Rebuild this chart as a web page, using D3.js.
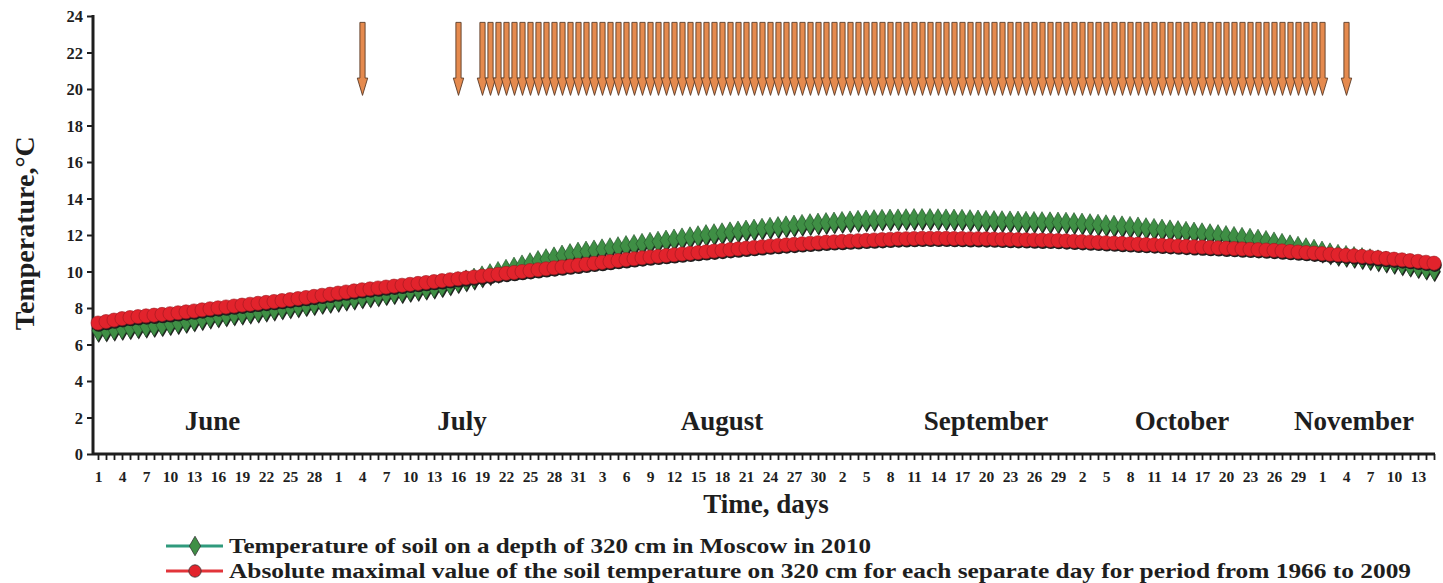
<!DOCTYPE html>
<meta charset="utf-8">
<style>
body { margin: 0; background: #fff; }
svg text { font-family: 'Liberation Serif', 'Times New Roman', serif; font-weight: bold; fill: #1e1e1e; }
.axis path, .axis line { stroke: #1e1e1e; }
</style>
<body>
<svg id="chart" width="1443" height="583"></svg>
<script src="https://d3js.org/d3.v7.min.js"></script>
<script>

// months shown on the x axis, and the day-of-month at each label
var months = ["June", "July", "August", "September", "October", "November"];
var monthLengths = [30, 31, 31, 30, 31, 15];
var monthLabelDay = [14.3, 45.5, 78, 111, 135.5, 157];

// soil temperature at 320 cm, Moscow 2010 (green diamonds)
var soil2010 = [].concat(
  [6.75, 6.78, 6.82, 6.86, 6.90, 6.94, 6.98, 7.02, 7.06, 7.12, 7.18, 7.24, 7.32, 7.40, 7.48,
   7.54, 7.60, 7.65, 7.70, 7.75, 7.80, 7.86, 7.92, 7.98, 8.04, 8.10, 8.16, 8.22, 8.28, 8.34],
  [8.40, 8.46, 8.52, 8.58, 8.64, 8.70, 8.76, 8.82, 8.88, 8.94, 9.00, 9.06, 9.12, 9.20, 9.30,
   9.42, 9.52, 9.62, 9.74, 9.86, 9.98, 10.10, 10.22, 10.34, 10.46, 10.58, 10.68, 10.78, 10.88, 10.96, 11.04],
  [11.10, 11.16, 11.22, 11.28, 11.34, 11.40, 11.46, 11.52, 11.58, 11.64, 11.70, 11.76, 11.82, 11.88, 11.94,
   12.00, 12.05, 12.10, 12.15, 12.20, 12.25, 12.30, 12.35, 12.40, 12.44, 12.48, 12.52, 12.56, 12.60, 12.63, 12.66],
  [12.69, 12.72, 12.75, 12.78, 12.80, 12.82, 12.84, 12.85, 12.86, 12.87, 12.88, 12.88, 12.88, 12.87, 12.86,
   12.85, 12.84, 12.82, 12.80, 12.78, 12.77, 12.76, 12.75, 12.74, 12.73, 12.72, 12.71, 12.70, 12.69, 12.68],
  [12.66, 12.63, 12.60, 12.57, 12.54, 12.51, 12.48, 12.45, 12.42, 12.38, 12.34, 12.30, 12.26, 12.22, 12.18,
   12.14, 12.10, 12.05, 12.00, 11.95, 11.90, 11.85, 11.80, 11.75, 11.68, 11.60, 11.52, 11.44, 11.36, 11.28, 11.20],
  [11.10, 11.00, 10.92, 10.86, 10.80, 10.74, 10.68, 10.62, 10.55, 10.48, 10.40, 10.32, 10.24, 10.16, 10.08]
);

// absolute maximum for each day, 1966-2009 (red circles)
var soilMax = [].concat(
  [7.18, 7.26, 7.34, 7.42, 7.48, 7.53, 7.57, 7.61, 7.65, 7.69, 7.74, 7.79, 7.84, 7.90, 7.96,
   8.01, 8.06, 8.11, 8.16, 8.21, 8.26, 8.31, 8.36, 8.41, 8.46, 8.52, 8.58, 8.64, 8.70, 8.76],
  [8.82, 8.88, 8.94, 9.00, 9.05, 9.10, 9.15, 9.20, 9.25, 9.30, 9.35, 9.40, 9.45, 9.50, 9.55,
   9.60, 9.65, 9.70, 9.75, 9.80, 9.85, 9.90, 9.95, 10.00, 10.05, 10.10, 10.15, 10.20, 10.25, 10.30, 10.35],
  [10.40, 10.45, 10.50, 10.55, 10.60, 10.65, 10.70, 10.75, 10.80, 10.84, 10.88, 10.92, 10.96, 11.00, 11.04,
   11.08, 11.12, 11.16, 11.20, 11.24, 11.28, 11.32, 11.36, 11.40, 11.43, 11.46, 11.49, 11.52, 11.55, 11.58, 11.61],
  [11.63, 11.65, 11.67, 11.69, 11.71, 11.73, 11.75, 11.77, 11.79, 11.80, 11.81, 11.82, 11.82, 11.82, 11.82,
   11.81, 11.81, 11.80, 11.80, 11.79, 11.78, 11.77, 11.76, 11.75, 11.74, 11.73, 11.72, 11.71, 11.70, 11.68],
  [11.66, 11.64, 11.62, 11.60, 11.58, 11.56, 11.54, 11.52, 11.50, 11.48, 11.46, 11.44, 11.42, 11.40, 11.38,
   11.36, 11.34, 11.32, 11.30, 11.28, 11.26, 11.24, 11.22, 11.20, 11.18, 11.16, 11.13, 11.10, 11.07, 11.04, 11.01],
  [10.98, 10.95, 10.92, 10.89, 10.86, 10.83, 10.80, 10.76, 10.72, 10.68, 10.64, 10.60, 10.56, 10.51, 10.46]
);

// days (index from June 1) marked with arrows: single days and one long run
var arrowRuns = [[33, 33], [45, 45], [48, 153], [156, 156]];

var yTicks = [0, 2, 4, 6, 8, 10, 12, 14, 16, 18, 20, 22, 24];

var legendLabels = [
  "Temperature of soil on a depth of 320 cm in Moscow in 2010",
  "Absolute maximal value of the soil temperature on 320 cm for each separate day for period from 1966 to 2009"
];
var legendWidths = [642, 1182];

// day-of-month for each index
var dayOfMonth = [];
monthLengths.forEach(function(n) {
  for (var d = 1; d <= n; d++) dayOfMonth.push(d);
});
var nDays = soil2010.length;

var arrowDays = [];
arrowRuns.forEach(function(r) {
  for (var i = r[0]; i <= r[1]; i++) arrowDays.push(i);
});

var svg = d3.select("#chart");

var x = d3.scaleLinear().domain([-0.625, 167.125]).range([93, 1435]);
var y = d3.scaleLinear().domain([0, 24]).range([454, 16]);

// y axis
var yAxis = svg.append("g")
    .attr("class", "axis")
    .attr("transform", "translate(93,0)")
    .call(d3.axisLeft(y).tickValues(yTicks).tickSize(6).tickPadding(4));
yAxis.select(".domain").attr("stroke-width", 3).attr("d", "M0," + (y(0) + 1) + "V" + (y(24) - 1));
yAxis.selectAll(".tick line").attr("stroke-width", 2);
yAxis.selectAll("text").style("font-size", "16.5px").attr("dy", "0.34em");

// x axis: a tick for every day, label every third day
var xAxis = svg.append("g")
    .attr("class", "axis")
    .attr("transform", "translate(0," + y(0) + ")")
    .call(d3.axisBottom(x)
      .tickValues(d3.range(nDays))
      .tickSize(6)
      .tickPadding(11)
      .tickFormat(function(i) { return i % 3 === 0 ? dayOfMonth[i] : ""; }));
xAxis.select(".domain").attr("stroke-width", 3).attr("d", "M93,0H1435");
xAxis.selectAll(".tick line").attr("stroke-width", 1.8);
xAxis.selectAll("text").style("font-size", "15.5px");

// month names inside the plot
svg.selectAll(".month")
  .data(months)
  .enter().append("text")
    .attr("class", "month")
    .attr("x", function(d, i) { return x(monthLabelDay[i]); })
    .attr("y", y(1.3))
    .attr("text-anchor", "middle")
    .style("font-size", "27px")
    .text(function(d) { return d; });

// axis titles
svg.append("text")
    .attr("transform", "translate(34," + y(12.1) + ") rotate(-90)")
    .attr("text-anchor", "middle")
    .style("font-size", "28px")
    .text("Temperature,\u00B0C");

svg.append("text")
    .attr("x", 766)
    .attr("y", 513)
    .attr("text-anchor", "middle")
    .style("font-size", "27px")
    .text("Time, days");

// arrows
svg.append("g").selectAll(".arrow")
  .data(arrowDays)
  .enter().append("path")
    .attr("class", "arrow")
    .attr("fill", "#e58a4e")
    .attr("stroke", "#5a3a26")
    .attr("stroke-width", 0.9)
    .attr("d", function(i) {
      var cx = x(i) + 0.5, top = y(23.65), neck = y(20.6), tip = y(19.65);
      return "M" + (cx - 2.6) + "," + top + "H" + (cx + 2.6) + "V" + neck +
        "H" + (cx + 5.2) + "L" + cx + "," + tip + "L" + (cx - 5.2) + "," + neck +
        "H" + (cx - 2.6) + "Z";
    });

// series markers
var diamond = d3.symbol().type(d3.symbolDiamond).size(125);
var circle = d3.symbol().type(d3.symbolCircle).size(155);

function drawSeries(values, sym, fill, stroke) {
  var g = svg.append("g");
  g.selectAll(".shadow")
    .data(values)
    .enter().append("path")
      .attr("transform", function(d, i) { return "translate(" + (x(i) + 0.8) + "," + (y(d) + 1.8) + ")"; })
      .attr("d", sym)
      .attr("fill", "#1d1d1d");
  g.selectAll(".mark")
    .data(values)
    .enter().append("path")
      .attr("transform", function(d, i) { return "translate(" + x(i) + "," + y(d) + ")"; })
      .attr("d", sym)
      .attr("fill", fill)
      .attr("stroke", stroke)
      .attr("stroke-width", 0.6);
}

drawSeries(soil2010, diamond, "#3f8f45", "#24512a");
drawSeries(soilMax, circle, "#e2232c", "#9a1a20");

// legend
var legendColors = ["#2f9a7c", "#e2343a"];
var legendSym = [d3.symbol().type(d3.symbolDiamond).size(110), d3.symbol().type(d3.symbolCircle).size(120)];
var legendFill = ["#3f8f45", "#e2232c"];
var legend = svg.selectAll(".legend")
  .data(legendLabels)
  .enter().append("g")
    .attr("class", "legend")
    .attr("transform", function(d, i) { return "translate(0," + (546 + i * 25) + ")"; });

legend.append("line")
    .attr("x1", 166).attr("x2", 223)
    .attr("stroke", function(d, i) { return legendColors[i]; })
    .attr("stroke-width", 3);
legend.append("path")
    .attr("transform", "translate(195,0)")
    .attr("d", function(d, i) { return legendSym[i](); })
    .attr("fill", function(d, i) { return legendFill[i]; })
    .attr("stroke", "#333")
    .attr("stroke-width", 0.8);
legend.append("text")
    .attr("x", 229)
    .attr("y", 6.5)
    .attr("textLength", function(d, i) { return legendWidths[i]; })
    .attr("lengthAdjust", "spacingAndGlyphs")
    .style("font-size", "21.5px")
    .text(function(d) { return d; });

</script>
</body>
